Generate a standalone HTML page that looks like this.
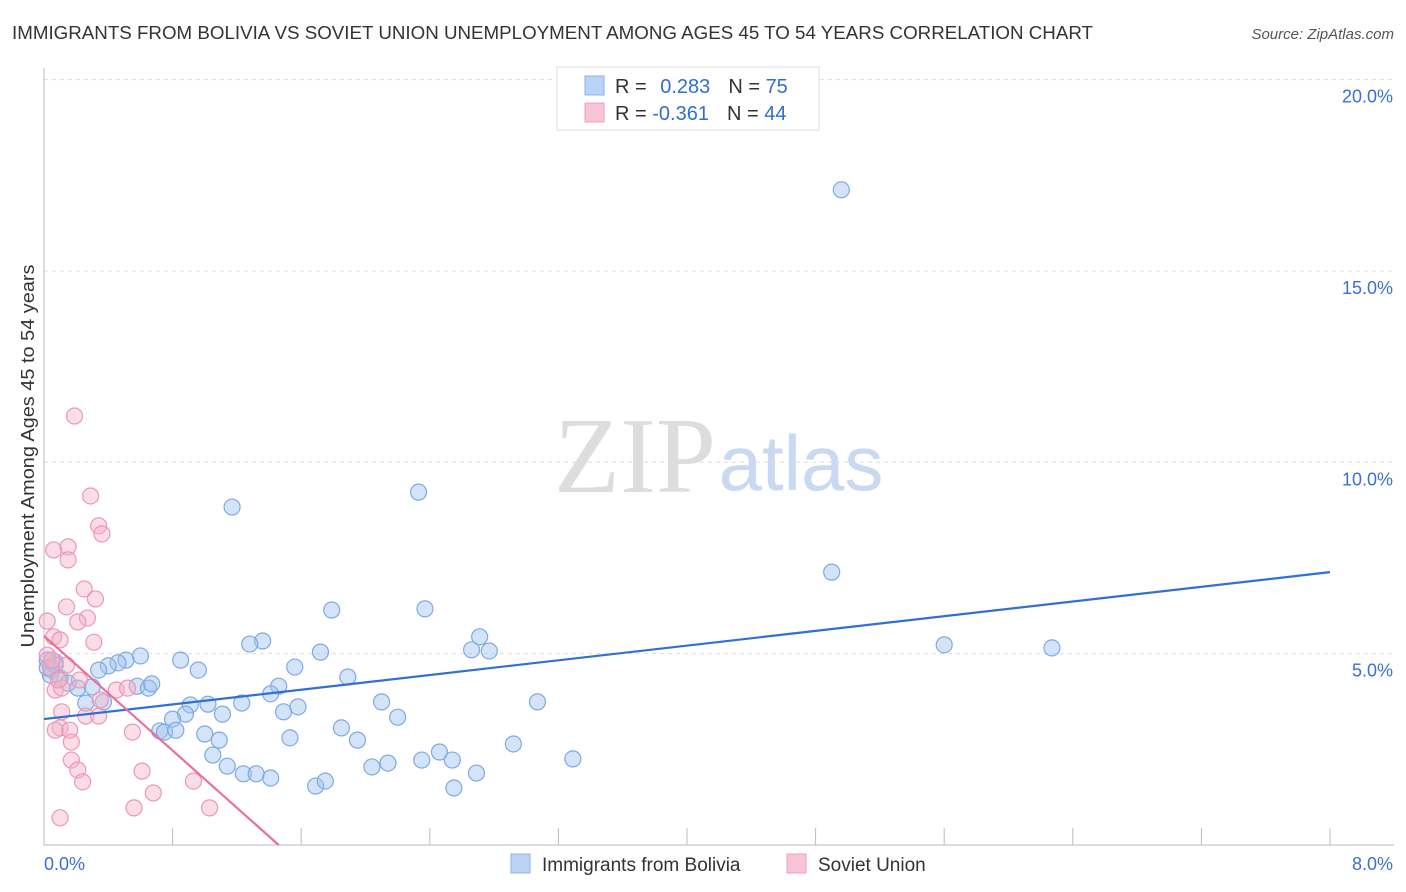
<!DOCTYPE html>
<html><head><meta charset="utf-8"><style>
body{margin:0;background:#fff;font-family:"Liberation Sans",sans-serif;}
svg{display:block}
</style></head><body>
<svg id="chart" width="1406" height="892">
<text x="12" y="39" font-size="18" fill="#333" textLength="1081" lengthAdjust="spacingAndGlyphs">IMMIGRANTS FROM BOLIVIA VS SOVIET UNION UNEMPLOYMENT AMONG AGES 45 TO 54 YEARS CORRELATION CHART</text>
<text x="1394" y="39" font-size="15" fill="#555" font-style="italic" text-anchor="end">Source: ZipAtlas.com</text>
<text x="635" y="492" font-size="108" fill="#ddd" font-family="Liberation Serif,serif" text-anchor="middle">ZIP</text>
<text x="801" y="490" font-size="78" fill="#c9d9f1" text-anchor="middle">atlas</text>
<text transform="translate(34,456) rotate(-90)" font-size="18" fill="#333" text-anchor="middle" textLength="383" lengthAdjust="spacingAndGlyphs">Unemployment Among Ages 45 to 54 years</text>
<g id="grid"></g><g id="marks"></g>
<g>
<rect x="557" y="67" width="262" height="63" fill="#fff" stroke="#ddd"/>
<rect x="585" y="76" width="19" height="19" fill="#b9d2f5" stroke="#8fb2e8"/>
<rect x="585" y="103" width="19" height="19" fill="#f8c4d4" stroke="#eea0b8"/>
<text x="615" y="93" font-size="20" fill="#333">R = <tspan fill="#2f6fd0" dx="8">0.283</tspan><tspan dx="18" fill="#333">N = </tspan><tspan fill="#2f6fd0">75</tspan></text>
<text x="615" y="120" font-size="20" fill="#333">R = <tspan fill="#2f6fd0">-0.361</tspan><tspan dx="18" fill="#333">N = </tspan><tspan fill="#2f6fd0">44</tspan></text>
</g>
<g>
<rect x="511" y="854" width="19" height="19" fill="#b9d2f5" stroke="#8fb2e8"/>
<text x="542" y="871" font-size="19" fill="#333">Immigrants from Bolivia</text>
<rect x="787" y="854" width="19" height="19" fill="#f8c4d4" stroke="#eea0b8"/>
<text x="818" y="871" font-size="19" fill="#333">Soviet Union</text>
</g>
<text x="44" y="870" font-size="18" fill="#3b6fd4">0.0%</text>
<text x="1393" y="870" font-size="18" fill="#3b6fd4" text-anchor="end">8.0%</text>
</svg>
<script>
const blueX=[4.96,1.17,2.33,4.90,5.60,6.27,2.37,1.79,2.71,2.66,2.77,1.36,1.28,1.72,0.85,0.96,0.60,0.51,0.46,0.40,0.34,0.07,0.05,0.04,0.10,0.15,0.21,0.30,0.26,0.37,0.58,0.65,0.67,1.46,1.56,1.41,1.89,2.10,1.23,1.02,0.91,0.88,1.11,1.49,1.58,2.20,0.80,0.72,0.75,0.82,1.00,1.09,1.53,1.85,1.95,1.05,1.14,1.24,1.32,1.41,1.69,1.75,2.04,2.14,2.35,2.46,2.54,2.69,2.55,2.92,3.07,3.29,0.02,0.02,0.07];
const blueY=[17.12,8.83,9.22,7.13,5.23,5.15,6.17,6.14,5.44,5.10,5.07,5.33,5.25,5.04,4.83,4.57,4.94,4.83,4.76,4.68,4.57,4.78,4.57,4.44,4.36,4.23,4.10,4.13,3.71,3.74,4.15,4.10,4.21,4.15,4.65,3.95,4.39,3.74,3.71,3.68,3.66,3.42,3.42,3.48,3.61,3.34,3.29,2.98,2.95,3.00,2.90,2.74,2.80,3.06,2.74,2.35,2.06,1.86,1.86,1.75,1.54,1.67,2.04,2.14,2.22,2.43,2.22,1.88,1.49,2.64,3.74,2.25,4.83,4.63,4.70];
const pinkX=[0.19,0.29,0.34,0.36,0.06,0.15,0.15,0.25,0.32,0.14,0.02,0.27,0.21,0.06,0.10,0.31,0.02,0.14,0.04,0.07,0.11,0.09,0.22,0.45,0.52,0.35,0.11,0.26,0.34,0.10,0.07,0.16,0.17,0.17,0.21,0.24,0.55,0.61,0.68,0.93,0.56,1.03,0.10,0.05];
const pinkY=[11.21,9.12,8.34,8.13,7.71,7.79,7.45,6.69,6.43,6.22,5.85,5.93,5.83,5.44,5.36,5.30,4.96,4.70,4.63,4.05,4.10,4.31,4.31,4.05,4.10,3.79,3.48,3.37,3.37,3.06,3.00,3.00,2.69,2.22,1.96,1.65,2.95,1.93,1.36,1.67,0.97,0.97,0.71,4.83];
const blueTrend=[3.29,7.13];
const pinkTrend=[5.46,-3.74];
const yTicks=[5,10,15,20];
const yTickLabels=["5.0%","10.0%","15.0%","20.0%"];
const xTicks=[0,0.8,1.6,2.4,3.2,4.0,4.8,5.6,6.4,7.2,8.0];
const NS='http://www.w3.org/2000/svg';
const sx=v=>44+v*160.75, sy=v=>845-v*38.27;
function mk(tag,at,parent){const e=document.createElementNS(NS,tag);for(const k in at)e.setAttribute(k,at[k]);parent.appendChild(e);return e;}
const grid=document.getElementById('grid'),marks=document.getElementById('marks');
yTicks.forEach((t,i)=>{
 const l=mk('line',{x1:44,x2:1394,y1:sy(t),y2:sy(t),stroke:'#ddd','stroke-dasharray':'4,4'},grid);
 
 
 const tx=mk('text',{x:1393,y:sy(t)+23,'font-size':18,fill:'#3b6fd4','text-anchor':'end'},grid);
 tx.textContent=yTickLabels[i];
 
 
});
const ax=mk('line',{x1:44,x2:44,y1:68,y2:845,stroke:'#bbb'},grid);


const bx=mk('line',{x1:44,x2:1394,y1:845,y2:845,stroke:'#bbb'},grid);


xTicks.forEach(t=>{const l=mk('line',{x1:sx(t),x2:sx(t),y1:828,y2:845,stroke:'#bbb'},grid);
 
 });
blueX.forEach((x,i)=>{const c=mk('circle',{cx:sx(x),cy:sy(blueY[i]),r:8,fill:'rgba(160,195,240,0.45)',stroke:'#7fa8e6','stroke-width':1.2},marks);
 
 });
pinkX.forEach((x,i)=>{const c=mk('circle',{cx:sx(x),cy:sy(pinkY[i]),r:8,fill:'rgba(245,180,200,0.45)',stroke:'#eb98b3','stroke-width':1.2},marks);
 
 });
const bl=mk('line',{x1:sx(0),y1:sy(blueTrend[0]),x2:sx(8),y2:sy(blueTrend[1]),stroke:'#2f6fd6','stroke-width':2.2},marks);


const xe=-pinkTrend[0]/pinkTrend[1];
const pl=mk('line',{x1:sx(0),y1:sy(pinkTrend[0]),x2:sx(xe),y2:sy(0),stroke:'#e8709a','stroke-width':2.2},marks);


</script>
</body></html>
